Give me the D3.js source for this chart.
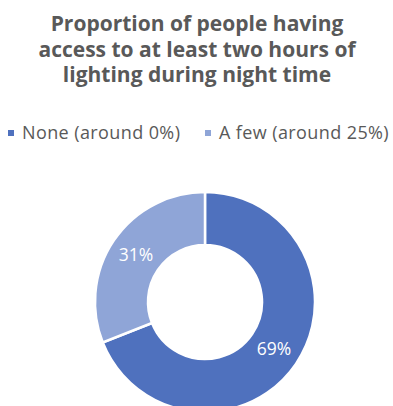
<!DOCTYPE html>
<html><head><meta charset="utf-8">
<script src="https://cdn.jsdelivr.net/npm/d3@7"></script>
<style>html,body{margin:0;padding:0;background:#fff;overflow:hidden}</style>
</head><body>
<script>
const categories = ["None (around 0%)", "A few (around 25%)"];
const values = [69, 31];
const colors = ["#4F71BE", "#8FA5D7"];
const titleLines = ["Proportion of people having", "access to at least two hours of", "lighting during night time"];

const W = 393, H = 406;
const svg = d3.select("body").append("svg").attr("width", W).attr("height", H)
  .style("font-family", "'Open Sans', Lato, sans-serif");

svg.append("g").selectAll("text").data(titleLines).join("text")
  .attr("x", 197).attr("y", (d, i) => 31 + i * 25.5)
  .attr("text-anchor", "middle").attr("fill", "#595959")
  .attr("font-size", 21).attr("font-weight", "bold").text(d => d);

// legend
const legendX = [8, 205];
const lg = svg.append("g").selectAll("g").data(categories).join("g")
  .attr("transform", (d, i) => `translate(${legendX[i]},133)`);
lg.append("rect").attr("x", 0).attr("y", -3).attr("width", 6).attr("height", 6)
  .attr("fill", (d, i) => colors[i]);
lg.append("text").attr("x", 14).attr("y", 0).attr("dy", "0.35em")
  .attr("fill", "#595959").attr("font-size", 18).attr("letter-spacing", 0.4)
  .text(d => d);

const cx = 205, cy = 302, rOuter = 110, rInner = 57;
const pie = d3.pie().sort(null).value(d => d);
const arcs = pie(values);
const arc = d3.arc().innerRadius(rInner).outerRadius(rOuter);
const g = svg.append("g").attr("transform", `translate(${cx},${cy})`);
g.selectAll("path").data(arcs).join("path")
  .attr("d", arc).attr("fill", (d, i) => colors[i])
  .attr("stroke", "#fff").attr("stroke-width", 2.5);
const labelArc = d3.arc().innerRadius((rInner + rOuter) / 2).outerRadius((rInner + rOuter) / 2);
g.selectAll("text").data(arcs).join("text")
  .attr("transform", d => `translate(${labelArc.centroid(d)})`)
  .attr("text-anchor", "middle").attr("dy", "0.35em")
  .attr("fill", "#fff").attr("font-size", 17.5)
  .text(d => d.data + "%");
</script>
</body></html>
